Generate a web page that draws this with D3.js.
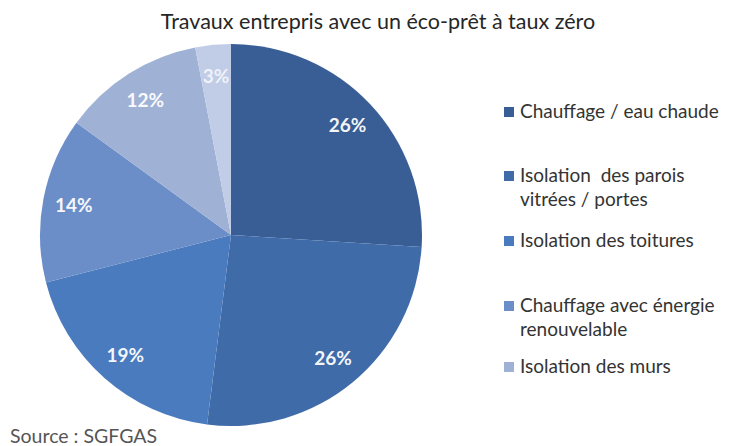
<!DOCTYPE html>
<html>
<head>
<meta charset="utf-8">
<script src="https://cdn.jsdelivr.net/npm/d3@7"></script>
<style>
  body { margin: 0; background: #fff; }
  svg { display: block; font-family: Lato, "Open Sans", sans-serif; }
</style>
</head>
<body>
<svg id="chart" width="738" height="446"></svg>
<script>
var title = "Travaux entrepris avec un éco-prêt à taux zéro";
var source = "Source : SGFGAS";
var sliceValues = [26, 26, 19, 14, 12, 3];
var sliceColors = ["#395e96", "#3f6ca8", "#4a7bbe", "#6b8ec8", "#9fb2d6", "#c1cce6"];
var legendLabels = [
    ["Chauffage / eau chaude"],
    ["Isolation  des parois", "vitrées / portes"],
    ["Isolation des toitures"],
    ["Chauffage avec énergie", "renouvelable"],
    ["Isolation des murs"]
];
var legendRows = [112, 176, 241, 306, 367];

var svg = d3.select("#chart");
var cx = 231, cy = 235, radius = 191;

svg.append("text")
    .attr("x", 378)
    .attr("y", 29)
    .attr("text-anchor", "middle")
    .attr("font-size", 21.5)
    .attr("fill", "#262626")
    .text(title);

var pie = d3.pie().sort(null).value(function (d) { return d; });
var arc = d3.arc().innerRadius(0).outerRadius(radius);
var labelArc = d3.arc().innerRadius(160).outerRadius(160);

var pieGroup = svg.append("g")
    .attr("transform", "translate(" + cx + "," + cy + ")");

var slices = pie(sliceValues);

pieGroup.selectAll("path.slice")
    .data(slices)
    .enter().append("path")
    .classed("slice", true)
    .attr("d", arc)
    .attr("fill", function (d, i) { return sliceColors[i]; });

pieGroup.selectAll("text.pct")
    .data(slices)
    .enter().append("text")
    .classed("pct", true)
    .attr("transform", function (d) { return "translate(" + labelArc.centroid(d) + ")"; })
    .attr("dy", 7)
    .attr("text-anchor", "middle")
    .attr("font-size", 19)
    .attr("font-weight", "bold")
    .attr("fill", "#fff")
    .attr("fill-opacity", function (d, i) { return i === 5 ? 0.75 : 0.95; })
    .text(function (d) { return d.value + "%"; });

var legend = svg.append("g");
legendLabels.forEach(function (lines, i) {
    var y = legendRows[i];
    legend.append("rect")
        .attr("x", 504)
        .attr("y", y - 5)
        .attr("width", 10)
        .attr("height", 10)
        .attr("fill", sliceColors[i]);
    lines.forEach(function (line, j) {
        legend.append("text")
            .attr("x", 520)
            .attr("y", y + 6 + j * 24)
            .attr("font-size", 19)
            .attr("fill", "#333")
            .style("white-space", "pre")
            .text(line);
    });
});

svg.append("text")
    .attr("x", 10)
    .attr("y", 443)
    .attr("font-size", 19.5)
    .attr("fill", "#555")
    .text(source);
</script>
</body>
</html>
